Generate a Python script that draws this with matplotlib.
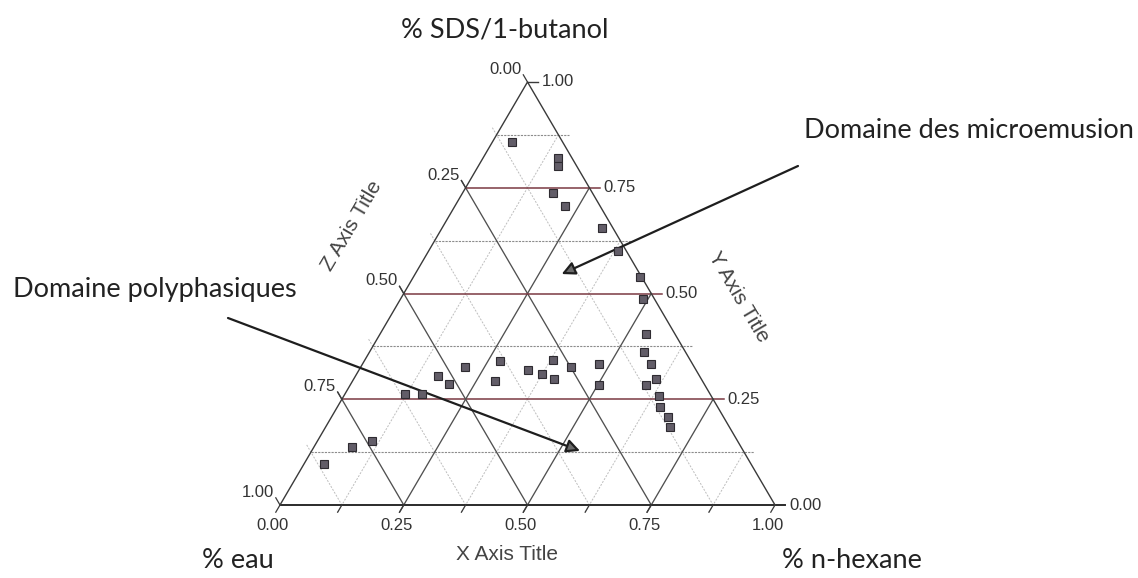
import numpy as np
import matplotlib
matplotlib.use('Agg')
import matplotlib.pyplot as plt

# sample compositions (fractions): hexane = X, SDS/1-butanol = Y, eau = Z
hexane = [0.040, 0.151, 0.161, 0.183, 0.222, 0.323, 0.383, 0.458, 0.490,
          0.537, 0.555, 0.583, 0.612, 0.598, 0.637, 0.652, 0.680, 0.696,
          0.478, 0.503, 0.122, 0.155, 0.167, 0.199, 0.210, 0.274, 0.287,
          0.342, 0.375, 0.380, 0.404, 0.425, 0.077, 0.110, 0.041]
sds = [0.857, 0.820, 0.801, 0.737, 0.708, 0.655, 0.601, 0.539, 0.488,
       0.404, 0.362, 0.333, 0.297, 0.284, 0.258, 0.232, 0.207, 0.184,
       0.333, 0.284, 0.262, 0.262, 0.305, 0.285, 0.326, 0.341, 0.293,
       0.319, 0.309, 0.343, 0.298, 0.326, 0.138, 0.151, 0.096]
eau = [0.103, 0.029, 0.038, 0.080, 0.070, 0.022, 0.016, 0.003, 0.022,
       0.059, 0.083, 0.084, 0.091, 0.118, 0.105, 0.116, 0.113, 0.120,
       0.189, 0.213, 0.616, 0.583, 0.528, 0.516, 0.464, 0.385, 0.420,
       0.339, 0.316, 0.277, 0.298, 0.249, 0.785, 0.739, 0.863]

ticks = [0.0, 0.25, 0.5, 0.75, 1.0]
tick_labels = ['0.00', '0.25', '0.50', '0.75', '1.00']
minor = [0.125, 0.375, 0.625, 0.875]

# arrow tips (hexane, SDS)
micro_tip = (0.296, 0.546)
poly_tip = (0.542, 0.128)


def cart(x, y):
    x = np.asarray(x, dtype=float)
    y = np.asarray(y, dtype=float)
    return x + y / 2.0, y


fig = plt.figure(figsize=(11.38, 5.78), dpi=100)
ax = fig.add_axes([280 / 1138, 73 / 578, 495 / 1138, 423 / 578])
ax.set_xlim(0, 1)
ax.set_ylim(0, 1)
ax.axis('off')

t = 0.017   # tick length along the edge directions
th = 0.021  # horizontal tick length on the right side

tick_font = dict(family='Liberation Sans', fontsize=12, color='#333333')

# grid lines, each one stretched past its edge to make the tick
for c in minor + ticks[1:-1]:
    major = c in ticks
    if major:
        hcol, hls, hlw = '#7a3942', '-', 1.1
        dcol, dls, dlw = '#505050', '-', 0.95
    else:
        hcol, hls, hlw = '#8c8c8c', (0, (2, 1)), 0.8
        dcol, dls, dlw = '#bdbdbd', (0, (2, 1.5)), 0.7
    # constant SDS
    x0, y0 = cart(0, c)
    x1, y1 = cart(1 - c, c)
    ax.plot([x0, x1 + th], [y0, y1], color=hcol, ls=hls, lw=hlw, clip_on=False)
    # constant hexane
    x0, y0 = cart(c, 0)
    x1, y1 = cart(c, 1 - c)
    ax.plot([x0 - t / 2, x1], [y0 - t, y1], color=dcol, ls=dls, lw=dlw, clip_on=False)
    # constant eau
    x0, y0 = cart(0, 1 - c)
    x1, y1 = cart(1 - c, 0)
    ax.plot([x0 - t / 2, x1], [y0 + t, y1], color=dcol, ls=dls, lw=dlw, clip_on=False)

# triangle edges
ax.plot([0, 1 + th], [0, 0], color='#2b2b2b', lw=1.4, clip_on=False)
ax.plot([0, 0.5, 1], [0, 1, 0], color='#3a3a3a', lw=1.0, clip_on=False)
ax.plot([0.5, 0.5 + th], [1, 1], color='#3a3a3a', lw=1.0, clip_on=False)

# end ticks and tick labels
for v, lab in zip(ticks, tick_labels):
    # X (bottom)
    bx, by = cart(v, 0)
    ax.plot([bx, bx - t / 2], [by, by - t], color='#3a3a3a', lw=0.9, clip_on=False)
    ax.annotate(lab, (bx - t / 2, by - t), xytext=(-3, -6), textcoords='offset pixels',
                ha='center', va='top', annotation_clip=False, **tick_font)
    # Y (right)
    rx, ry = cart(1 - v, v)
    ax.annotate(lab, (rx + th, ry), xytext=(4, 0), textcoords='offset pixels',
                ha='left', va='center', annotation_clip=False, **tick_font)
    # Z (left)
    lx, ly = cart(0, 1 - v)
    ax.plot([lx, lx - t / 2], [ly, ly + t], color='#3a3a3a', lw=0.9, clip_on=False)
    ax.annotate(lab, (lx - t / 2, ly + t), xytext=(-2, -2), textcoords='offset pixels',
                ha='right', va='bottom', annotation_clip=False, **tick_font)

for c in minor:
    bx, by = cart(c, 0)
    ax.plot([bx, bx - t / 2], [by, by - t], color='#3a3a3a', lw=0.9, clip_on=False)

# samples
px, py = cart(hexane, sds)
ax.plot(px, py, ls='none', marker='s', markersize=5.8, mfc='#625d68',
        mec='#2e2b31', mew=0.8, clip_on=False, zorder=5)

# axis titles
ax_font = dict(family='Liberation Sans', color='#444444', fontsize=15)
fig.text(507 / 1138, 1 - 554 / 578, 'X Axis Title', ha='center', va='center', **ax_font)
fig.text(352 / 1138, 1 - 226 / 578, 'Z Axis Title', ha='center', va='center',
         rotation=59.5, **ax_font)
fig.text(739 / 1138, 1 - 297 / 578, 'Y Axis Title', ha='center', va='center',
         rotation=-59.5, **ax_font)

# component names
lab_font = dict(family='Lato', color='#222222', fontsize=19.5)
fig.text(505 / 1138, 1 - 30 / 578, '% SDS/1-butanol', ha='center', va='center', **lab_font)
fig.text(238 / 1138, 1 - 561 / 578, '% eau', ha='center', va='center', **lab_font)
fig.text(852 / 1138, 1 - 561 / 578, '% n-hexane', ha='center', va='center', **lab_font)

# domain annotations
arrow = dict(arrowstyle='-|>', color='#1e1e1e', lw=1.6, mutation_scale=20,
             fc='#6a6a6a', shrinkA=0, shrinkB=0)
ax.annotate('', cart(*micro_tip), xytext=(798 / 1138, 1 - 166 / 578),
            textcoords='figure fraction', arrowprops=arrow)
ax.annotate('', cart(*poly_tip), xytext=(228 / 1138, 1 - 318 / 578),
            textcoords='figure fraction', arrowprops=arrow)
fig.text(969 / 1138, 1 - 131 / 578, 'Domaine des microemusion', ha='center', va='center',
         **lab_font)
fig.text(155 / 1138, 1 - 289 / 578, 'Domaine polyphasiques', ha='center', va='center',
         **lab_font)

fig.savefig('out.png', dpi=100, facecolor='white')
